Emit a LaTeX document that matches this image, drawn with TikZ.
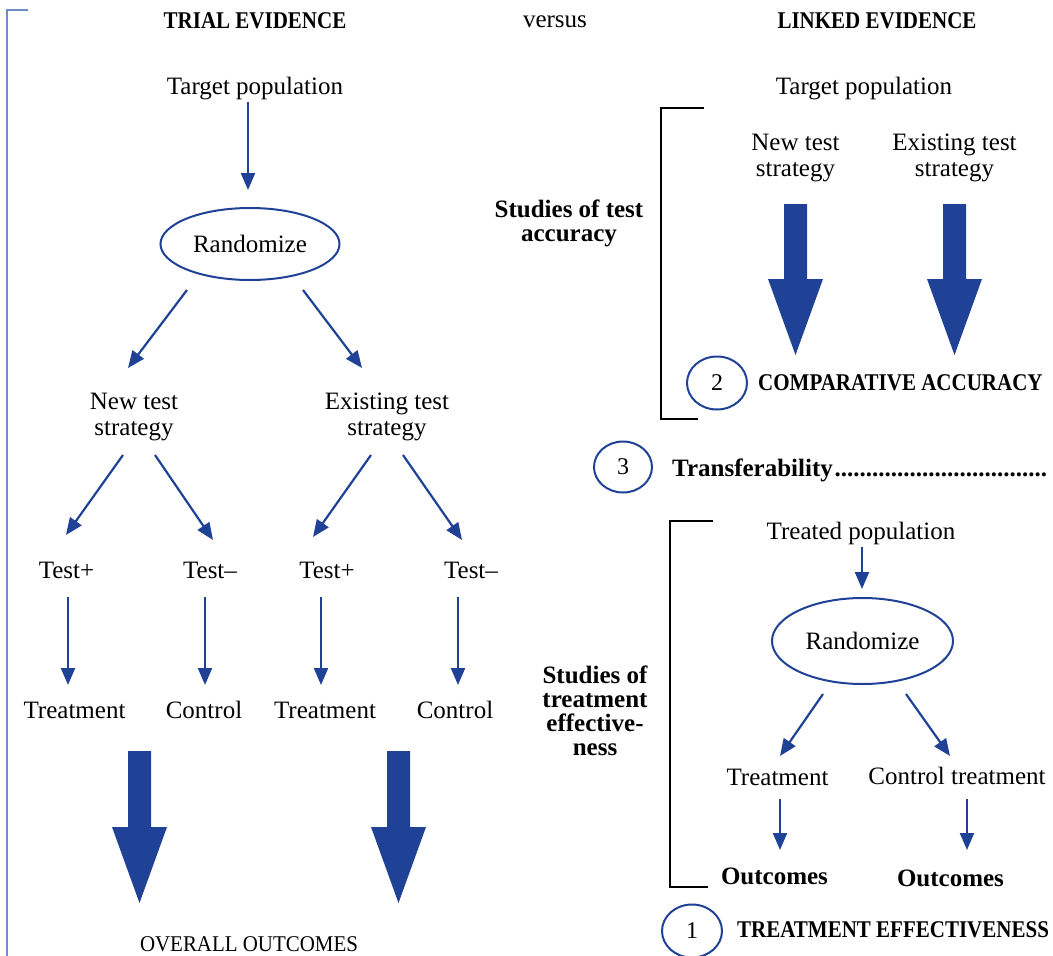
\documentclass[tikz,border=0pt]{standalone}
\usepackage{fontspec}
\setmainfont{Liberation Serif}
\newfontfamily\capsfont[FakeStretch=0.875]{Liberation Serif}
\newfontfamily\capsfontn[FakeStretch=0.93]{Liberation Serif}
\usetikzlibrary{arrows.meta,shapes.geometric}
\definecolor{navy}{HTML}{1F4196}
\definecolor{lightblue}{HTML}{6E8CC8}
\begin{document}
\begin{tikzpicture}[x=1pt,y=-1pt,
 txt/.style={inner sep=0pt, align=center, text depth=0pt, font=\fontsize{25}{26}\selectfont},
 btxt/.style={inner sep=0pt, align=center, text depth=0pt, font=\fontsize{25}{24}\selectfont\bfseries},
 bcaps/.style={inner sep=0pt, font=\capsfont\fontsize{24}{26}\selectfont\bfseries},
 caps/.style={inner sep=0pt, font=\capsfontn\fontsize{22.5}{24}\selectfont},
 oval/.style={draw=navy, line width=2pt, ellipse, inner sep=0pt},
 numoval/.style={oval, minimum width=60pt, minimum height=53pt, font=\fontsize{24}{24}\selectfont},
 arr/.style={draw=navy, line width=2.2pt, -{Triangle[length=17pt,width=14pt]}},
 bigarrow/.style={fill=navy, draw=none},
 bracket/.style={draw=black, line width=2.5pt},
]
\useasboundingbox (0,0) rectangle (1053,956);

% frame of left half
\draw[draw=lightblue, line width=2.5pt] (28,10) -- (7,10) -- (7,958);

% titles
\node[bcaps] (t1) at (255,21) {TRIAL EVIDENCE};
\node[txt] (vs) at (555,22) {versus};
\node[bcaps] (t2) at (877,21) {LINKED EVIDENCE};

% ---------- left tree ----------
\node[txt] (tp1) at (255,86) {Target population};
\node[oval, minimum width=179pt, minimum height=72pt, font=\fontsize{25}{26}\selectfont] (rand1) at (250,244) {Randomize};
\node[txt] (nts1) at (134,414) {New test\\strategy};
\node[txt] (ets1) at (387,414) {Existing test\\strategy};
\node[txt] (tpl1) at (66.5,570) {Test+};
\node[txt] (tm1) at (210,570) {Test\textendash};
\node[txt] (tpl2) at (327,570) {Test+};
\node[txt] (tm2) at (471,570) {Test\textendash};
\node[txt] (tr1) at (74.5,710) {Treatment};
\node[txt] (co1) at (204,710) {Control};
\node[txt] (tr2) at (325,710) {Treatment};
\node[txt] (co2) at (455,710) {Control};
\node[caps] (oo) at (249,944) {OVERALL OUTCOMES};

\draw[arr] ([shift={(-7,16)}]tp1.center) -- ([shift={(-2,-54)}]rand1.center);
\draw[arr] ([shift={(-63,46)}]rand1.center) -- ([shift={(-6,-46)}]nts1.center);
\draw[arr] ([shift={(53,46)}]rand1.center) -- ([shift={(-25,-46)}]ets1.center);
\draw[arr] ([shift={(-11,41)}]nts1.center) -- ([shift={(-0.5,-35)}]tpl1.center);
\draw[arr] ([shift={(21,41)}]nts1.center) -- ([shift={(3,-30)}]tm1.center);
\draw[arr] ([shift={(-16,41)}]ets1.center) -- ([shift={(-14,-33)}]tpl2.center);
\draw[arr] ([shift={(16,41)}]ets1.center) -- ([shift={(-9,-30)}]tm2.center);
\draw[arr] ([shift={(1.5,27)}]tpl1.center) -- ([shift={(-6.5,-25)}]tr1.center);
\draw[arr] ([shift={(-5,27)}]tm1.center) -- ([shift={(1,-25)}]co1.center);
\draw[arr] ([shift={(-6,27)}]tpl2.center) -- ([shift={(-4,-25)}]tr2.center);
\draw[arr] ([shift={(-13,27)}]tm2.center) -- ([shift={(3,-25)}]co2.center);

% big arrows to overall outcomes
\path[bigarrow] (128,751) -- (151,751) -- (151,827) -- (167,827) -- (139.5,903) -- (112,827) -- (128,827) -- cycle;
\path[bigarrow] (387,751) -- (410,751) -- (410,827) -- (426,827) -- (398.5,903) -- (371,827) -- (387,827) -- cycle;

% ---------- right: test accuracy ----------
\node[txt] (tp2) at (864,86) {Target population};
\draw[bracket] (704,108) -- (661,108) -- (661,419) -- (698,419);
\node[btxt] (sta) at (569,221) {Studies of test\\accuracy};
\node[txt] (nts2) at (795.5,155) {New test\\strategy};
\node[txt] (ets2) at (954.5,155) {Existing test\\strategy};
\path[bigarrow] (784,204) -- (807,204) -- (807,279) -- (823,279) -- (795.5,355) -- (768,279) -- (784,279) -- cycle;
\path[bigarrow] (943,204) -- (966,204) -- (966,279) -- (982,279) -- (954.5,355) -- (927,279) -- (943,279) -- cycle;
\node[numoval] (c2) at (717,383) {2};
\node[bcaps, anchor=west] (ca) at (758,383) {COMPARATIVE ACCURACY};

% transferability
\node[numoval, minimum width=58pt, minimum height=51pt] (c3) at (623,467) {3};
\node[btxt, anchor=west] (tf) at (672,468) {\makebox[378pt][l]{Transferability\leaders\hbox{.}\hfill}};

% ---------- right: treatment effectiveness ----------
\draw[bracket] (713,521) -- (670,521) -- (670,887) -- (708,887);
\node[btxt] (ste) at (595,711) {Studies of\\treatment\\effective-\\ness};
\node[txt] (tp3) at (861,531) {Treated population};
\node[oval, minimum width=181pt, minimum height=86pt, font=\fontsize{25}{26}\selectfont] (rand2) at (862.5,641) {Randomize};
\node[txt] (tr3) at (777.5,777) {Treatment};
\node[txt] (ct3) at (957,776) {Control treatment};
\node[btxt] (out1) at (774.5,876) {Outcomes};
\node[btxt] (out2) at (950.5,878) {Outcomes};
\draw[arr] ([shift={(1,16)}]tp3.center) -- ([shift={(-0.5,-52)}]rand2.center);
\draw[arr] ([shift={(-39.5,53)}]rand2.center) -- ([shift={(2.5,-21)}]tr3.center);
\draw[arr] ([shift={(43.5,53)}]rand2.center) -- ([shift={(-7,-20)}]ct3.center);
\draw[arr] ([shift={(2.5,22)}]tr3.center) -- ([shift={(5.5,-26)}]out1.center);
\draw[arr] ([shift={(10,23)}]ct3.center) -- ([shift={(16.5,-28)}]out2.center);
\node[numoval] (c1) at (692,931) {1};
\node[bcaps, anchor=west] (te) at (737,930) {TREATMENT EFFECTIVENESS};
\end{tikzpicture}
\end{document}
